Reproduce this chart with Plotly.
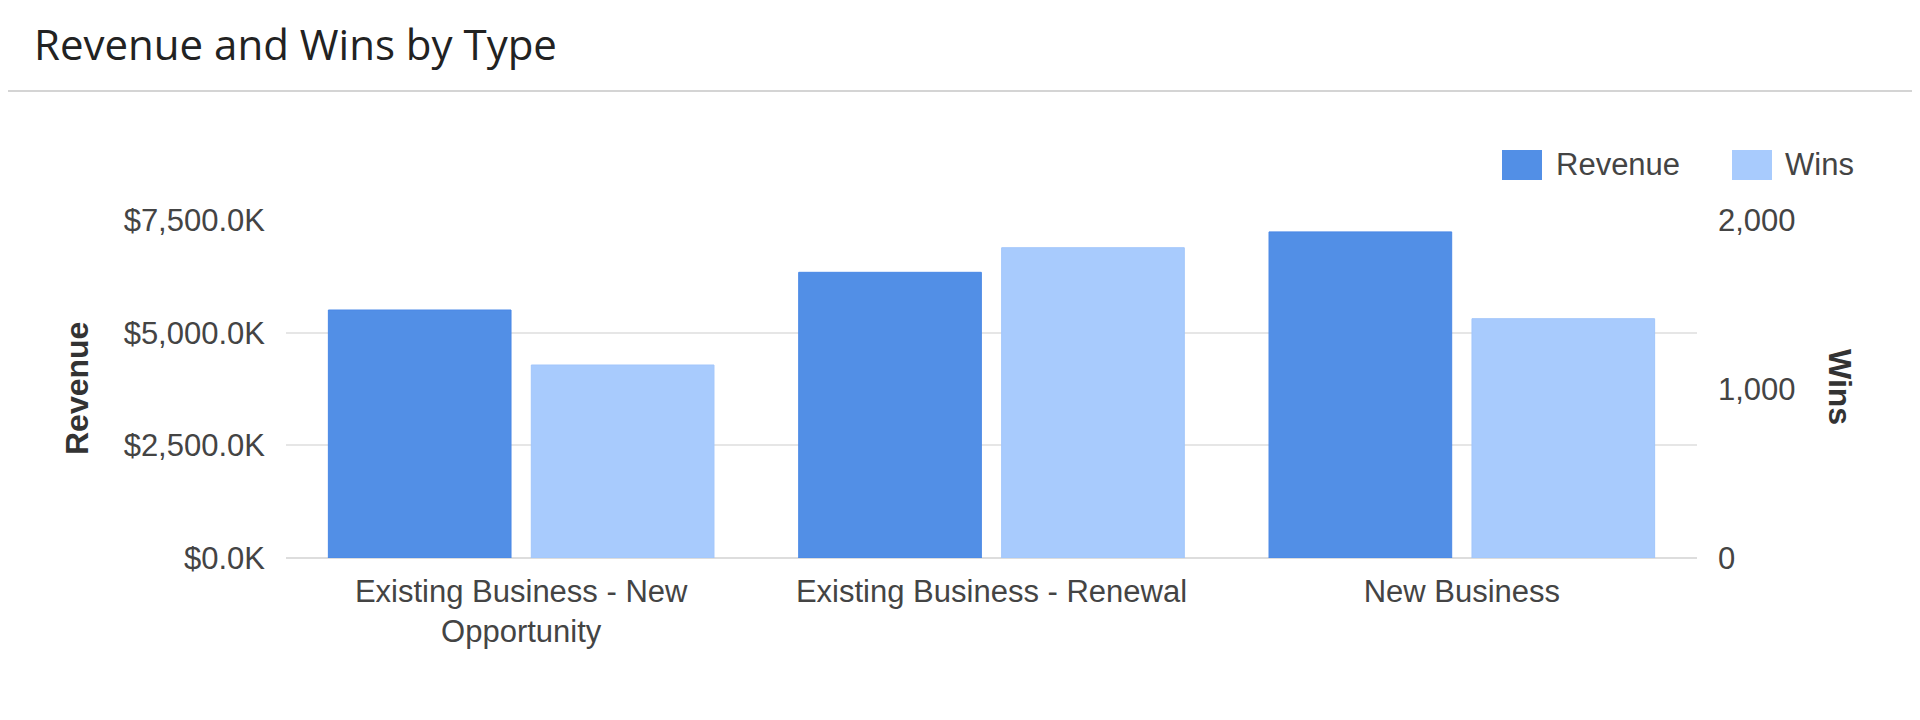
import plotly.graph_objects as go

# data
types = ["Existing Business - New<br>Opportunity", "Existing Business - Renewal", "New Business"]
revenue_k = [5503, 6339, 7236]   # thousands of dollars
wins = [1142, 1836, 1416]

revenue_ticks = [0, 2500, 5000, 7500]
wins_ticks = [0, 1000, 2000]

REV_COLOR = "#528fe6"
WINS_COLOR = "#a8cbfd"
FONT = "Liberation Sans, Arial, sans-serif"

W, H = 1920, 720
BODY = 8  # browser body margin
LEFT, RIGHT, TOP, BOTTOM = 286, 1697, 220, 558


def px_x(x):
    return (x - LEFT) / (RIGHT - LEFT)


def px_y(y):
    return (BOTTOM - y) / (BOTTOM - TOP)


fig = go.Figure()
fig.add_trace(go.Bar(
    x=types, y=revenue_k, name="Revenue", yaxis="y", offsetgroup="rev",
    marker=dict(color=REV_COLOR, line=dict(color="#4a88e6", width=1)),
))
fig.add_trace(go.Bar(
    x=types, y=wins, name="Wins", yaxis="y2", offsetgroup="wins",
    marker=dict(color=WINS_COLOR, line=dict(color="#a2c6fb", width=1)),
))

fig.update_layout(
    width=W, height=H,
    margin=dict(l=LEFT - BODY, r=W - RIGHT + BODY, t=TOP - BODY,
                b=H - BOTTOM + BODY, pad=0),
    paper_bgcolor="white", plot_bgcolor="white",
    barmode="group", bargap=0.137, bargroupgap=0.1,
    showlegend=False,
    font=dict(family=FONT, size=31, color="#444444"),
    title=dict(
        text="Revenue and Wins by Type",
        x=(34 - BODY) / W, xanchor="left", xref="container",
        y=1 - (45 - BODY) / H, yanchor="middle", yref="container",
        font=dict(family="Open Sans", size=42, color="#222222"),
    ),
    xaxis=dict(
        showgrid=False, showline=False, zeroline=False,
        ticks="", ticklabelstandoff=12,
        tickfont=dict(size=31, color="#444444"),
    ),
    yaxis=dict(
        range=[0, 7500], tickvals=revenue_ticks,
        ticktext=[f"${v:,.1f}K" for v in revenue_ticks],
        showgrid=True, gridcolor="#e6e6e6", gridwidth=2,
        zeroline=True, zerolinecolor="#dddddd", zerolinewidth=2,
        showline=False, ticks="", ticklabelstandoff=20,
        tickfont=dict(size=31, color="#444444"),
    ),
    yaxis2=dict(
        range=[0, 2000], tickvals=wins_ticks,
        ticktext=[f"{v:,d}" for v in wins_ticks],
        overlaying="y", side="right",
        showgrid=False, zeroline=False, showline=False,
        ticks="", ticklabelstandoff=20,
        tickfont=dict(size=31, color="#444444"),
    ),
)

# header divider line
fig.add_shape(type="line", xref="paper", yref="paper",
              x0=px_x(0), x1=px_x(W), y0=px_y(91), y1=px_y(91),
              line=dict(color="#d4d4d4", width=2))

# axis titles
fig.add_annotation(text="<b>Revenue</b>", xref="paper", yref="paper",
                   x=px_x(77), y=0.5, xanchor="center", yanchor="middle",
                   textangle=-90, showarrow=False,
                   font=dict(family=FONT, size=32, color="#333333"))
fig.add_annotation(text="<b>Wins</b>", xref="paper", yref="paper",
                   x=px_x(1840), y=px_y(387), xanchor="center", yanchor="middle",
                   textangle=90, showarrow=False,
                   font=dict(family=FONT, size=32, color="#333333"))

# legend with large swatches
legend_items = [("Revenue", REV_COLOR, 1502, 1554), ("Wins", WINS_COLOR, 1732, 1783)]
for label, color, sx, tx in legend_items:
    fig.add_shape(type="rect", xref="paper", yref="paper",
                  x0=px_x(sx), x1=px_x(sx + 40), y0=px_y(180), y1=px_y(150),
                  fillcolor=color, line=dict(width=0))
    fig.add_annotation(text=label, xref="paper", yref="paper",
                       x=px_x(tx), y=px_y(165), xanchor="left", yanchor="middle",
                       showarrow=False,
                       font=dict(family=FONT, size=31, color="#444444"))

fig.write_html("out.html")
